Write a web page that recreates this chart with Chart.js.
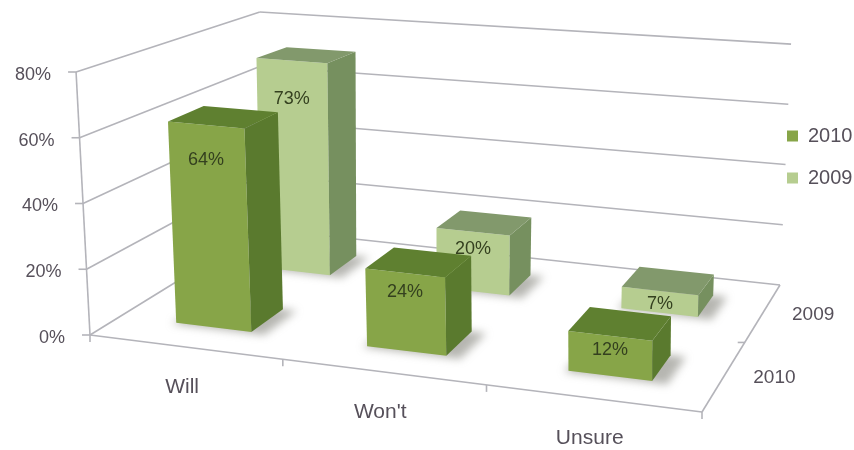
<!DOCTYPE html>
<html>
<head>
<meta charset="utf-8">
<style>
  html, body { margin: 0; padding: 0; background: #fff; }
  #wrap { width: 854px; height: 450px; }
  canvas { filter: blur(0.6px); }
</style>
<script src="https://cdn.jsdelivr.net/npm/chart.js@4"></script>
</head>
<body>
<div id="wrap"><canvas id="survey_chart"></canvas></div>
<script>
const categories = ['Will', "Won't", 'Unsure'];
const years = ['2010', '2009'];
const values2010 = [64, 24, 12];
const values2009 = [73, 20, 7];
const percentTicks = [0, 20, 40, 60, 80];

const font_name = '"Liberation Sans", Arial, sans-serif';
const text_color = '#56505a';
const grid_color = '#b4b4ba';

// face colours per dataset: front comes from the dataset itself
const side_colors = { '2010': '#5a7a2e', '2009': '#76905f' };
const top_colors = { '2010': '#5f8030', '2009': '#82996c' };

// corners of the floor on the canvas, and how the vertical runs at each corner
const floor = { fl: [90, 335], fr: [702, 412], br: [780, 285], bl: [262, 229] };
const rise = { fl: 1, fr: 1.08, br: 0.916, bl: 0.825 };
const lean = { fl: -0.053, fr: 0.0, br: 0.046, bl: -0.01 };

// share of a category / of a year row taken by a box, and box height against the walls
const bar_share = 0.4;
const depth_share = 0.38;
const box_rise = 0.975;

function make_homography() {
    const [x0, y0] = floor.fl, [x1, y1] = floor.fr, [x2, y2] = floor.br, [x3, y3] = floor.bl;
    const sx = x0 - x1 + x2 - x3, sy = y0 - y1 + y2 - y3;
    const dx1 = x1 - x2, dx2 = x3 - x2, dy1 = y1 - y2, dy2 = y3 - y2;
    const den = dx1 * dy2 - dx2 * dy1;
    const g = (sx * dy2 - dx2 * sy) / den;
    const h = (dx1 * sy - sx * dy1) / den;
    const a = x1 - x0 + g * x1, b = x3 - x0 + h * x3;
    const d = y1 - y0 + g * y1, e = y3 - y0 + h * y3;
    return (u, v) => {
        const w = g * u + h * v + 1;
        return [(a * u + b * v + x0) / w, (d * u + e * v + y0) / w];
    };
}
const floor_point = make_homography();

function mix(c, u, v) {
    return (c.fl * (1 - u) + c.fr * u) * (1 - v) + (c.bl * (1 - u) + c.br * u) * v;
}

// u, v are fractions along the x and depth scales, height comes from the y scale in px
function project(u, v, height) {
    const p = floor_point(u, v);
    const up = height * mix(rise, u, v);
    return [p[0] + up * mix(lean, u, v), p[1] - up];
}

function polygon(ctx, points, fill) {
    ctx.beginPath();
    points.forEach((p, i) => i ? ctx.lineTo(p[0], p[1]) : ctx.moveTo(p[0], p[1]));
    ctx.closePath();
    ctx.fillStyle = fill;
    ctx.fill();
}

function segment(ctx, a, b) {
    ctx.beginPath();
    ctx.moveTo(a[0], a[1]);
    ctx.lineTo(b[0], b[1]);
    ctx.stroke();
}

function axis_fraction(scale, px) {
    return (px - scale.left) / scale.width;
}

const perspective_plugin = {
    id: 'perspective',
    afterLayout(chart) {
        // the legend sits higher than the built in right position allows
        const legend = chart.legend;
        const h = legend.bottom - legend.top;
        legend.left = 765;
        legend.right = legend.left + legend.width;
        legend.top = 104;
        legend.bottom = legend.top + h;
    },
    beforeDatasetsDraw(chart) {
        const ctx = chart.ctx;
        const y = chart.scales.y;
        const zero = y.getPixelForValue(0);
        ctx.save();
        ctx.strokeStyle = grid_color;
        ctx.lineWidth = 1.6;
        percentTicks.forEach(t => {
            const h = zero - y.getPixelForValue(t);
            const front = project(0, 0, h), back = project(0, 1, h), right = project(1, 1, h);
            segment(ctx, front, back);
            segment(ctx, back, right);
            segment(ctx, [front[0] - 8, front[1]], front);
        });
        segment(ctx, project(0, 0, 0), project(0, 0, zero - y.getPixelForValue(80)));
        segment(ctx, project(0, 0, 0), project(1, 0, 0));
        segment(ctx, project(1, 0, 0), project(1, 1, 0));
        // tick marks between the categories and between the years
        categories.forEach((c, i) => {
            const p = project(i / categories.length, 0, 0);
            segment(ctx, p, [p[0], p[1] + 7]);
        });
        const fr = project(1, 0, 0);
        segment(ctx, fr, [fr[0], fr[1] + 7]);
        const mid = project(1, 0.5, 0);
        segment(ctx, mid, [mid[0] - 7, mid[1]]);
        ctx.restore();
    },
    beforeDatasetDraw(chart, args) {
        const ctx = chart.ctx;
        const x = chart.scales.x, y = chart.scales.y, depth = chart.scales.depth;
        const dataset = chart.data.datasets[args.index];
        const v = axis_fraction(depth, depth.getPixelForValue(dataset.label));
        const dv = 0.5 * depth_share / years.length;
        const zero = y.getPixelForValue(0);
        args.meta.data.forEach(bar => {
            const u = axis_fraction(x, bar.x);
            const du = bar.width / 2 / x.width;
            const h = (zero - bar.y) * box_rise;
            const u0 = u - du, u1 = u + du, v0 = v - dv, v1 = v + dv;

            // soft shadow on the floor
            ctx.save();
            ctx.filter = 'blur(4px)';
            polygon(ctx, [project(u0 - 0.005, v0 - 0.01, 0), project(u1 + 0.025, v0 - 0.01, 0),
                project(u1 + 0.025, v1, 0), project(u0, v1, 0)], 'rgba(110,110,100,0.5)');
            ctx.restore();

            polygon(ctx, [project(u0, v0, h), project(u1, v0, h), project(u1, v0, 0), project(u0, v0, 0)], dataset.backgroundColor);
            polygon(ctx, [project(u1, v0, h), project(u1, v1, h), project(u1, v1, 0), project(u1, v0, 0)], side_colors[dataset.label]);
            polygon(ctx, [project(u0, v0, h), project(u0, v1, h), project(u1, v1, h), project(u1, v0, h)], top_colors[dataset.label]);
        });
        return false;
    },
    afterDatasetsDraw(chart) {
        const ctx = chart.ctx;
        const x = chart.scales.x, y = chart.scales.y, depth = chart.scales.depth;
        const zero = y.getPixelForValue(0);
        ctx.save();
        ctx.textAlign = 'center';
        ctx.textBaseline = 'middle';

        // value labels on the front faces
        ctx.fillStyle = '#34401f';
        ctx.font = '18px ' + font_name;
        chart.data.datasets.forEach((dataset, d) => {
            const v = axis_fraction(depth, depth.getPixelForValue(dataset.label)) - 0.5 * depth_share / years.length;
            chart.getDatasetMeta(d).data.forEach((bar, i) => {
                const u = axis_fraction(x, bar.x);
                const h = (zero - bar.y) * box_rise;
                const top = project(u, v, h);
                ctx.fillText(dataset.data[i] + '%', top[0], top[1] + 10 + 0.12 * h);
            });
        });

        ctx.fillStyle = text_color;

        // percent axis labels
        ctx.font = '18px ' + font_name;
        ctx.textAlign = 'right';
        percentTicks.forEach(t => {
            const p = project(0, 0, zero - y.getPixelForValue(t));
            ctx.fillText(t + '%', p[0] - 25, p[1] + 3);
        });

        // category labels under the front edge
        ctx.font = '21px ' + font_name;
        ctx.textAlign = 'center';
        categories.forEach(c => {
            const p = project(axis_fraction(x, x.getPixelForValue(c)), 0, 0);
            ctx.fillText(c, p[0] - 3, p[1] + 40);
        });

        // year labels beside the right edge
        ctx.font = '19px ' + font_name;
        years.forEach(year => {
            const p = project(1, axis_fraction(depth, depth.getPixelForValue(year)), 0);
            ctx.fillText(year, p[0] + 50, p[1] + 2);
        });
        ctx.restore();
    }
};

const chart = new Chart(document.getElementById('survey_chart').getContext('2d'), {
    type: 'bar',
    data: {
        labels: categories,
        datasets: [
            { label: years[0], data: values2010, backgroundColor: '#87a548' },
            { label: years[1], data: values2009, backgroundColor: '#b6cd90' }
        ]
    },
    options: {
        responsive: true,
        maintainAspectRatio: false,
        animation: false,
        layout: { padding: { top: 72, bottom: 115 } },
        datasets: { bar: { grouped: false, categoryPercentage: 1, barPercentage: bar_share } },
        scales: {
            x: { display: false },
            depth: { type: 'category', axis: 'x', labels: years, offset: true, display: false },
            y: { display: false, min: 0, max: 80 }
        },
        plugins: {
            tooltip: { enabled: false },
            legend: {
                position: 'right',
                align: 'start',
                labels: {
                    boxWidth: 11,
                    boxHeight: 11,
                    padding: 22,
                    color: text_color,
                    font: { size: 20, family: font_name }
                }
            }
        }
    },
    plugins: [perspective_plugin]
});
</script>
</body>
</html>
